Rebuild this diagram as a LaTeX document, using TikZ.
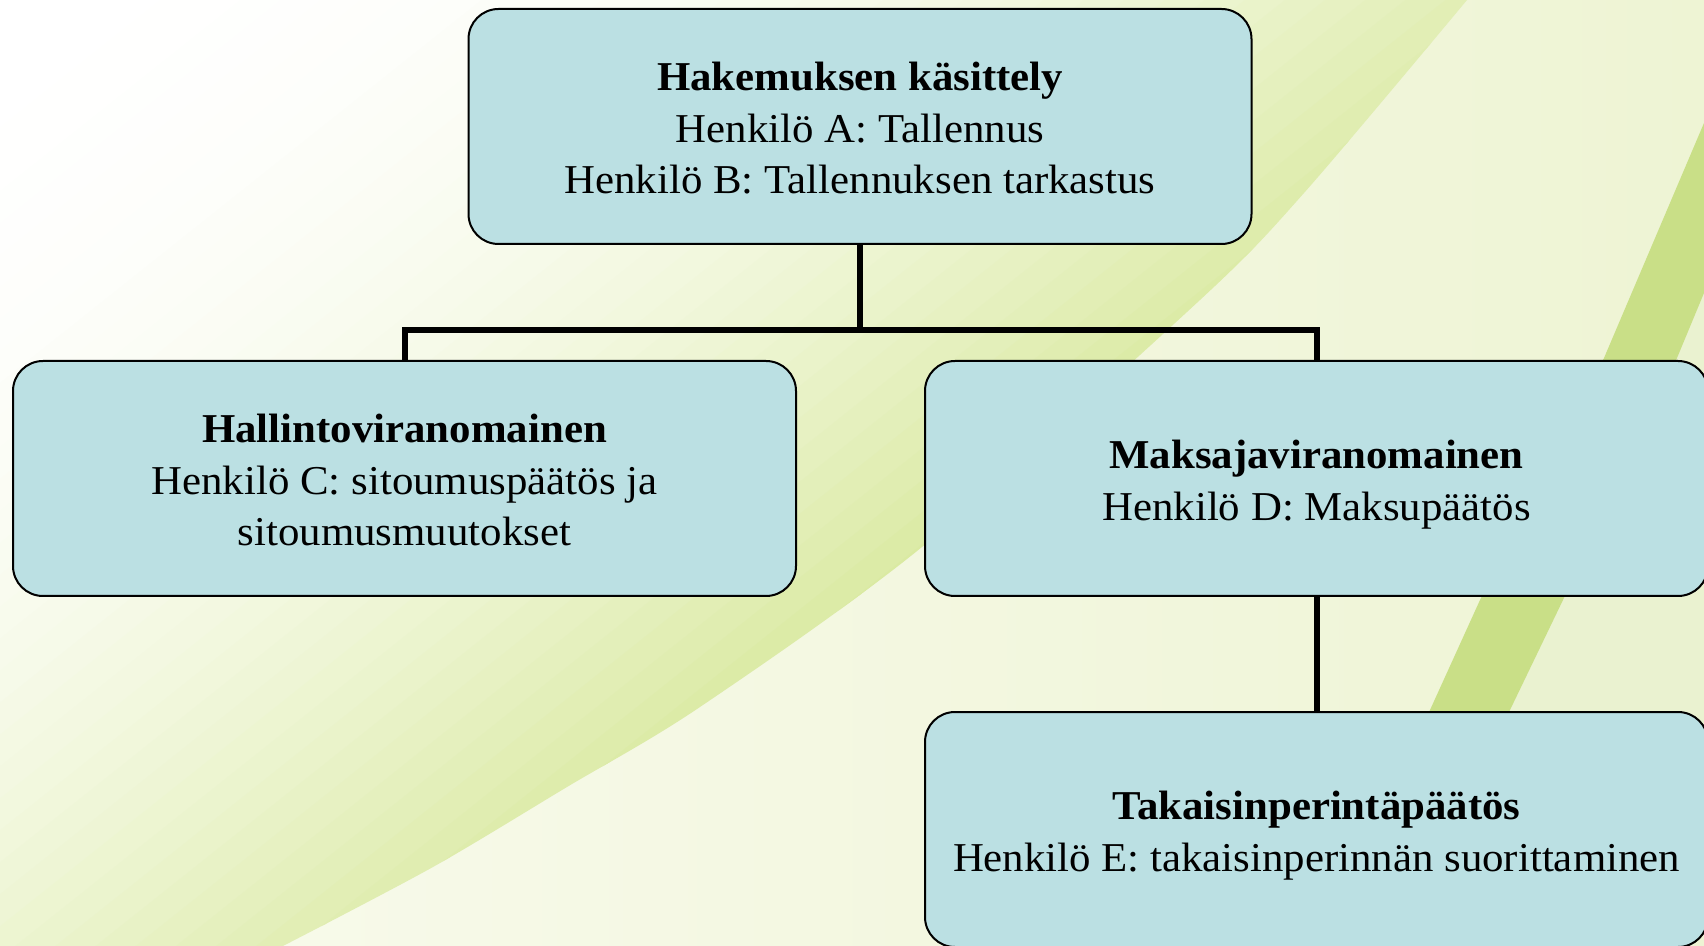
\documentclass[tikz,border=0pt]{standalone}
\usepackage{fontspec}
\setmainfont{Liberation Serif}[FakeStretch=1.045]
\usetikzlibrary{calc}
\definecolor{boxfill}{RGB}{187,224,227}
\definecolor{bandgreen}{RGB}{218,234,162}
\definecolor{creamleft}{RGB}{249,251,238}
\definecolor{creamright}{RGB}{238,244,212}
\definecolor{rightpale}{RGB}{234,242,208}
\definecolor{stripegreen}{RGB}{201,223,135}
\newcommand\tst{\rule{0pt}{1.03em}}
\newcommand\bst{\rule[-0.25em]{0pt}{0.25em}}
\begin{document}
\begin{tikzpicture}[x=0.5pt,y=-0.5pt,
  orgbox/.style={draw=black, line width=1pt, fill=boxfill, rounded corners=15pt,
    minimum width=391.5pt, minimum height=117.5pt, inner sep=0pt, align=center,
    font=\fontsize{20.5}{25.75}\selectfont},
  conn/.style={line width=3pt, draw=black}]
\useasboundingbox (0,0) rectangle (1704,946);
\clip (0,0) rectangle (1704,946);
% background
\shade[left color=creamleft, right color=creamright] (0,0) rectangle (1704,946);
\begin{scope}
  \clip (0,0) -- plot[smooth] coordinates {(1467,0) (1304,193) (1200,300) (922,547) (700,707) (567,787) (433,867) (283,946)} -- (0,946) -- cycle;
  \begin{scope}[rotate=-51.5]
    \foreach \i in {0,...,45} {
      \pgfmathsetmacro\p{min(100,100*(\i*25/1000)^2.2)}
      \fill[bandgreen!\p!white] (\i*25,-3000) rectangle (\i*25+26,3000);
    }
  \end{scope}
\end{scope}
\fill[rightpale] (1704,293) -- (1677,358) -- (1563,600) -- (1510,710) -- (1478,780) -- (1704,780) -- cycle;
\fill[stripegreen] (1704,123) -- (1604,358) -- (1480,600) -- (1430,710) -- (1395,780)
  -- (1478,780) -- (1510,710) -- (1563,600) -- (1677,358) -- (1704,293) -- cycle;
% boxes
\node[orgbox] (A) at (860,126.5) {\tst\textbf{Hakemuksen käsittely}\\Henkilö A: Tallennus\\Henkilö B: Tallennuksen tarkastus\bst};
\node[orgbox] (B) at (404.5,478.5) {\tst\textbf{Hallintoviranomainen}\\Henkilö C: sitoumuspäätös ja\\sitoumusmuutokset\bst};
\node[orgbox] (C) at (1316.5,478.5) {\tst\textbf{Maksajaviranomainen}\\Henkilö D: Maksupäätös\bst};
\node[orgbox] (E) at (1316.5,829.5) {\tst\textbf{Takaisinperintäpäätös}\\Henkilö E: takaisinperinnän suorittaminen\bst};
% connectors
\coordinate (j) at ($(A.south)+(0,85)$);
\draw[conn] (A.south) -- (j);
\draw[conn] (B.north) |- (j) -| (C.north);
\draw[conn] (C.south) -- (E.north);
\end{tikzpicture}
\end{document}
